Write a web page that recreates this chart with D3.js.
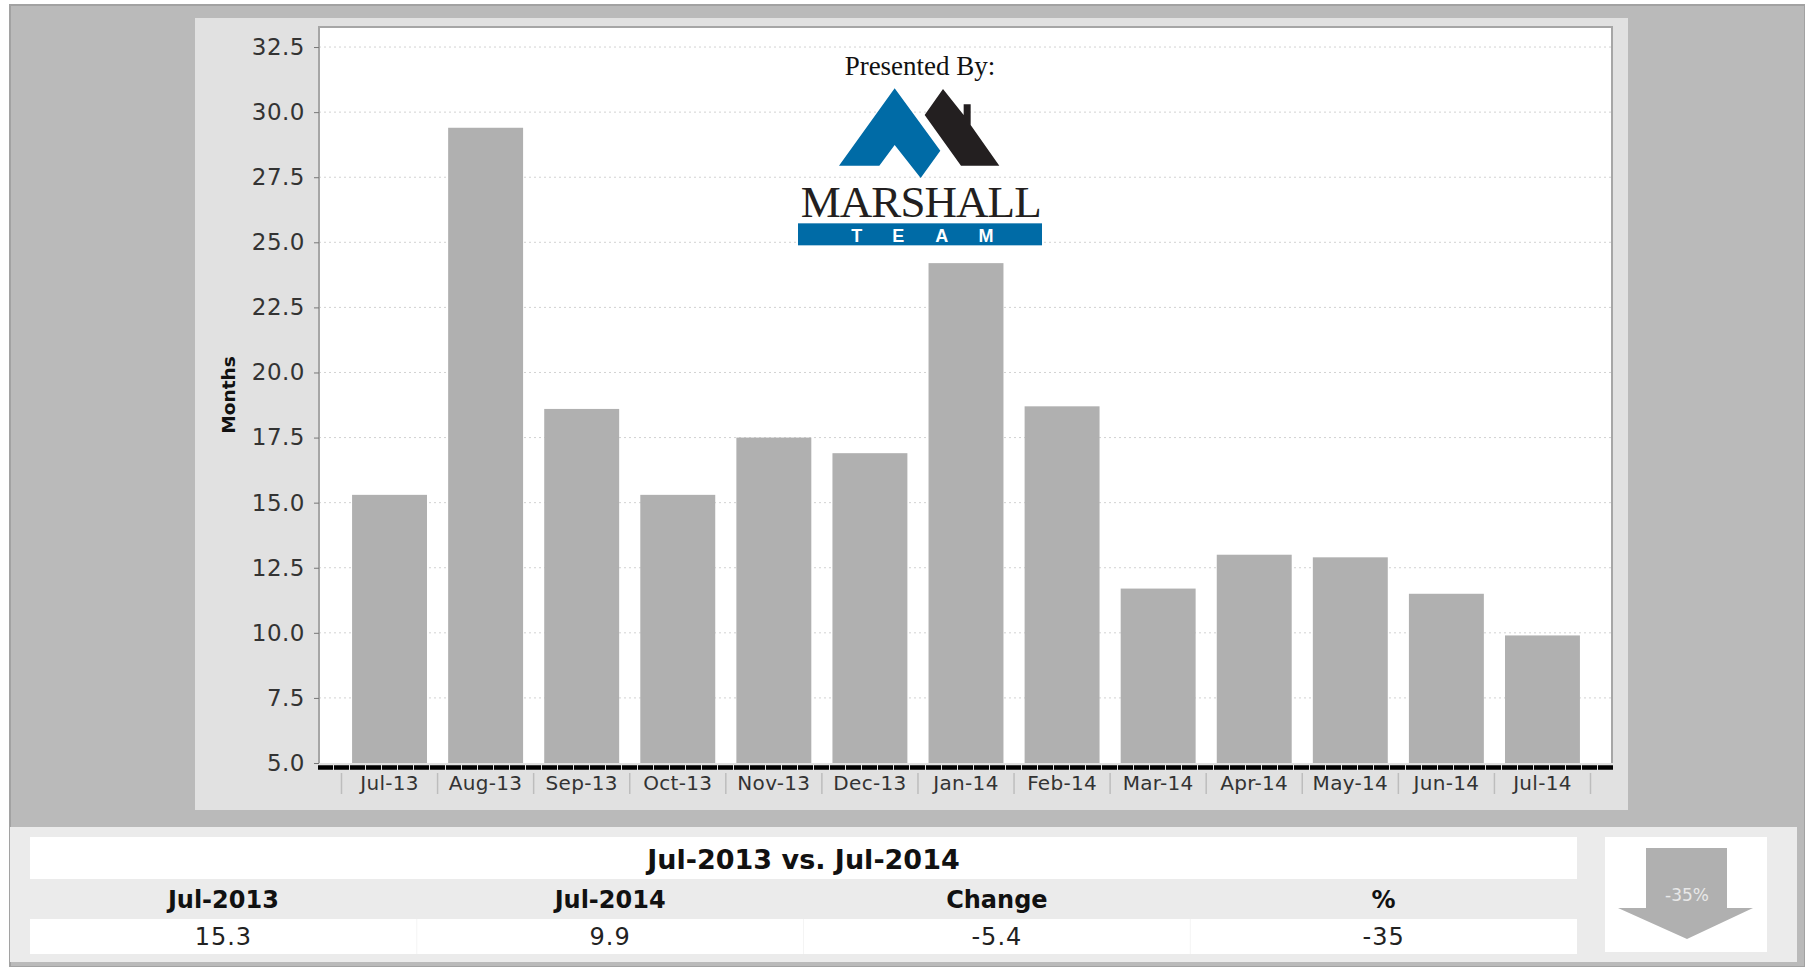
<!DOCTYPE html>
<html><head><meta charset="utf-8">
<script src="https://cdnjs.cloudflare.com/ajax/libs/d3/7.8.5/d3.min.js"></script>
<style>
html,body{margin:0;padding:0;background:#fff;overflow:hidden}
svg{display:block}
text{font-family:"DejaVu Sans",sans-serif}
</style></head><body>
<svg id="c" width="1805" height="967"></svg>
<script>
const months=["Jul-13","Aug-13","Sep-13","Oct-13","Nov-13","Dec-13","Jan-14","Feb-14","Mar-14","Apr-14","May-14","Jun-14","Jul-14"];
const values=[15.3,29.4,18.6,15.3,17.5,16.9,24.2,18.7,11.7,13.0,12.9,11.5,9.9];
const yTicks=[5,7.5,10,12.5,15,17.5,20,22.5,25,27.5,30,32.5];
const yDomain=[5,33.27];
const tableTitle="Jul-2013 vs. Jul-2014";
const tableHeaders=["Jul-2013","Jul-2014","Change","%"];
const tableValues=["15.3","9.9","-5.4","-35"];
const arrowLabel="-35%";
const yLabel="Months";

const svg=d3.select("#c");
const rect=(x,y,w,h,f,g=svg)=>g.append("rect").attr("x",x).attr("y",y).attr("width",w).attr("height",h).attr("fill",f);

// page + panels
rect(10,5,1795,962,"#bababa").attr("stroke","#a2a2a2").attr("stroke-width",2);
rect(195,18,1433,792,"#e1e1e1");

const plot={l:319,r:1612,t:27,b:763};
rect(plot.l,plot.t,plot.r-plot.l,plot.b-plot.t,"#fff");

const x=d3.scaleBand().domain(months).range([341.5,1590.5]).paddingInner(0.22).paddingOuter(0.11);
const y=d3.scaleLinear().domain(yDomain).range([plot.b,plot.t]);

// grid
svg.append("g").selectAll("line").data(yTicks.slice(1)).join("line")
  .attr("x1",plot.l).attr("x2",plot.r).attr("y1",d=>y(d)).attr("y2",d=>y(d))
  .attr("stroke","#d2d2d2").attr("stroke-width",1).attr("stroke-dasharray","2 3");

// bars
svg.append("g").selectAll("rect").data(months).join("rect")
  .attr("x",d=>x(d)).attr("width",x.bandwidth())
  .attr("y",(d,i)=>y(values[i])).attr("height",(d,i)=>y(yDomain[0])-y(values[i]))
  .attr("fill","#b0b0b0");

// frame
svg.append("path").attr("fill","none").attr("stroke","#a6a6a6").attr("stroke-width",2)
  .attr("d",`M${plot.l},${plot.b}V${plot.t}H${plot.r}V${plot.b}`);

// y axis
const ya=svg.append("g").attr("transform",`translate(${plot.l},0)`)
  .call(d3.axisLeft(y).tickValues(yTicks).tickFormat(d3.format(".1f")).tickSize(5).tickPadding(9));
ya.select(".domain").remove();
ya.selectAll("line").attr("stroke","#777");
ya.selectAll("text").attr("font-size",23).attr("fill","#333").attr("letter-spacing",0.5)
  .style("font-family",'"DejaVu Sans",sans-serif');

// x axis
const xa=svg.append("g").attr("transform",`translate(0,${plot.b+3})`)
  .call(d3.axisBottom(x).tickSize(0).tickPadding(10));
xa.select(".domain").remove();
xa.selectAll("text").attr("font-size",20).attr("fill","#333").attr("letter-spacing",0.3)
  .style("font-family",'"DejaVu Sans",sans-serif');
const gap=(x.step()-x.bandwidth())/2;
svg.append("g").selectAll("line").data([...months,null]).join("line")
  .attr("x1",(d,i)=>d?x(d)-gap:x(months[months.length-1])+x.bandwidth()+gap)
  .attr("x2",(d,i)=>d?x(d)-gap:x(months[months.length-1])+x.bandwidth()+gap)
  .attr("y1",773).attr("y2",794).attr("stroke","#bdbdbd").attr("stroke-width",1.5);
// baseline
svg.append("line").attr("x1",plot.l-1).attr("x2",plot.r+1).attr("y1",y(yDomain[0])+4.5).attr("y2",y(yDomain[0])+4.5)
  .attr("stroke","#000").attr("stroke-width",4.5).attr("stroke-dasharray","15 1");

// y title
svg.append("text").attr("transform","translate(235,395) rotate(-90)").attr("text-anchor","middle")
  .attr("font-size",18.5).attr("font-weight","bold").attr("fill","#111").text(yLabel);

// logo
const logo=svg.append("g");
logo.append("text").attr("x",920).attr("y",75).attr("text-anchor","middle")
  .style("font-family",'"Liberation Serif",serif').attr("font-size",27).attr("fill","#111").text("Presented By:");
const lx=v=>760+v/3, ly=v=>30+v/3;
const poly=(pts,f)=>logo.append("polygon").attr("points",pts.map(p=>lx(p[0])+","+ly(p[1])).join(" ")).attr("fill",f);
poly([[404,175],[237,407],[358,407],[404,345],[482,444],[541,362]],"#006ba6");
poly([[549,177],[494,255],[603,407],[718,407],[632,285],[632,223],[611,223],[611,255]],"#231f20");
logo.append("text").attr("x",lx(122)).attr("y",ly(560))
  .style("font-family",'"Liberation Serif",serif').attr("font-size",45).attr("fill","#231f20")
  .attr("textLength",241).attr("lengthAdjust","spacing").text("MARSHALL");
rect(lx(114),ly(580),244,22,"#006ba6",logo);
[["T",290],["E",415],["A",545],["M",678]].forEach(([t,p])=>{
  logo.append("text").attr("x",lx(p)).attr("y",ly(635)).attr("text-anchor","middle")
    .style("font-family",'"Liberation Sans",sans-serif').attr("font-weight","bold")
    .attr("font-size",18).attr("fill","#fff").text(t);
});

// summary table
rect(10,827,1787,135,"#ebebeb");
rect(30,837,1547,42,"#fff");
rect(30,919,1547,35,"#fff");
const col=d3.scaleBand().domain(tableHeaders).range([30,1577]);
svg.append("text").attr("x",(30+1577)/2).attr("y",869).attr("text-anchor","middle")
  .attr("font-size",27).attr("font-weight","bold").attr("fill","#111").text(tableTitle);
svg.append("g").selectAll("text").data(tableHeaders).join("text")
  .attr("x",d=>col(d)+col.bandwidth()/2).attr("y",908).attr("text-anchor","middle")
  .attr("font-size",24).attr("font-weight","bold").attr("fill","#111").text(d=>d);
svg.append("g").selectAll("text").data(tableValues).join("text")
  .attr("x",(d,i)=>col(tableHeaders[i])+col.bandwidth()/2).attr("y",945).attr("text-anchor","middle")
  .attr("font-size",24).attr("letter-spacing",1).attr("fill","#222").text(d=>d);
svg.append("g").selectAll("line").data(tableHeaders.slice(1)).join("line")
  .attr("x1",d=>col(d)).attr("x2",d=>col(d)).attr("y1",919).attr("y2",954).attr("stroke","#f4f4f4");

// arrow
rect(1605,837,162,115,"#fff");
svg.append("polygon").attr("points","1646,848 1727,848 1727,908 1753,908 1687,939 1618,908 1646,908").attr("fill","#b0b0b0");
svg.append("text").attr("x",1687).attr("y",901).attr("text-anchor","middle").attr("font-size",17)
  .attr("fill","#e8e8e8").text(arrowLabel);
</script></body></html>
